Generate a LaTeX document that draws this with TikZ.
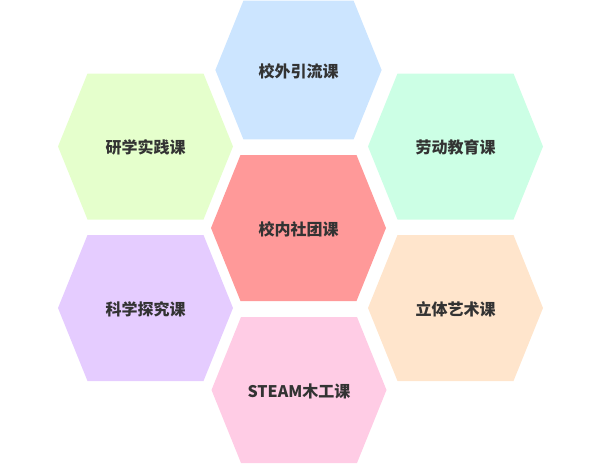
\documentclass[tikz,border=0pt]{standalone}
\usepackage{fontspec}
\newfontfamily\cjk{Noto Sans CJK SC}
\definecolor{blueC}{HTML}{CCE5FF}
\definecolor{redC}{HTML}{FF9999}
\definecolor{greenC}{HTML}{E5FFCC}
\definecolor{mintC}{HTML}{CCFFE5}
\definecolor{peachC}{HTML}{FFE5CC}
\definecolor{lilacC}{HTML}{E5CCFF}
\definecolor{pinkC}{HTML}{FFCCE5}
\definecolor{textC}{HTML}{333333}
\tikzset{
  cell/.style={font=\cjk\bfseries\fontsize{16pt}{19pt}\selectfont, text=textC, inner sep=0pt}
}
% one honeycomb cell: centre x, centre y, size, colour
\newcommand{\hexfill}[4]{%
  \fill[#4, shift={(#1,#2)}, scale=#3] (-87.5,0) -- (-58,-73) -- (58,-73) -- (87.5,0) -- (58,73) -- (-58,73) -- cycle;}

\begin{document}
\begin{tikzpicture}[x=1pt, y=-1pt]
\useasboundingbox (0,0) rectangle (600,464);
\hexfill{298.5}{70}{0.95}{blueC}
\hexfill{298.5}{228}{1}{redC}
\hexfill{145.5}{146.5}{1}{greenC}
\hexfill{455.5}{146.5}{1}{mintC}
\hexfill{145.5}{308}{1}{lilacC}
\hexfill{455.5}{308}{1}{peachC}
\hexfill{299}{390}{1}{pinkC}
\node[cell] (outside) at (298.5, 71) {校外引流课};
\node[cell] (club) at (298.5, 229) {校内社团课};
\node[cell] (study) at (145.5, 147.5) {研学实践课};
\node[cell] (labour) at (455.5, 147.5) {劳动教育课};
\node[cell] (science) at (145.5, 309) {科学探究课};
\node[cell] (art) at (455.5, 309) {立体艺术课};
\node[cell] (steam) at (299, 391) {STEAM木工课};
\end{tikzpicture}
\end{document}
